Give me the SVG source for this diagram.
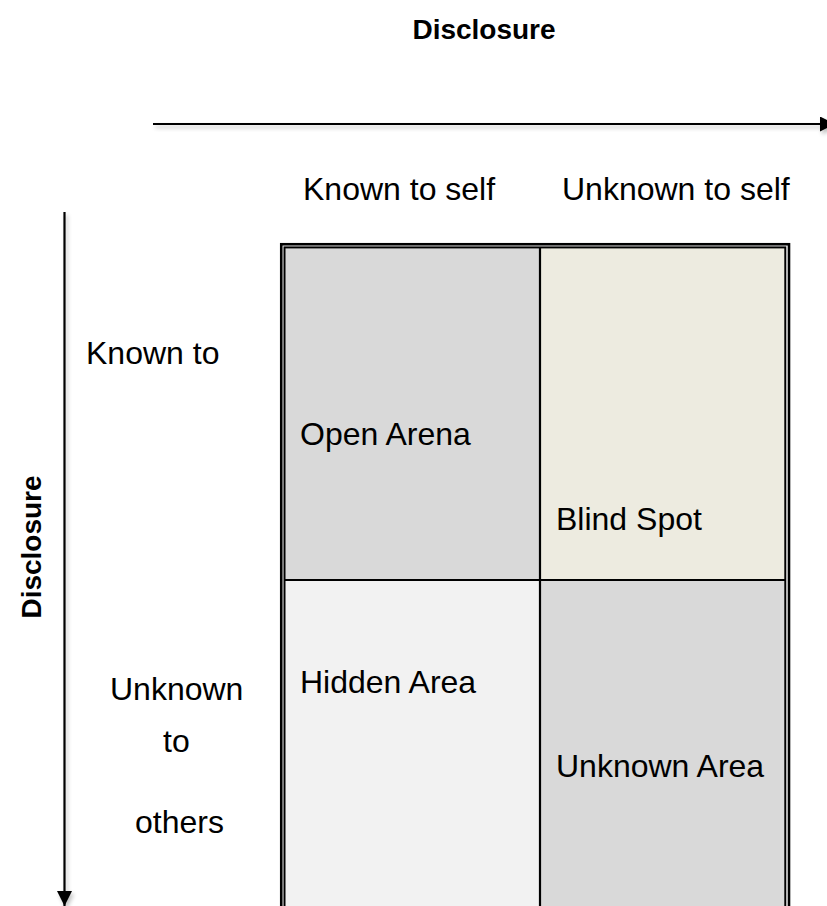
<svg xmlns="http://www.w3.org/2000/svg" width="827" height="906" viewBox="0 0 827 906">
  <style>
    .lbl { font-family: "Liberation Sans", Arial, sans-serif; font-size: 32px; fill: #000; }
    .ttl { font-family: "Liberation Sans", Arial, sans-serif; font-size: 28px; font-weight: bold; fill: #000; }
    .axis { stroke: #000; stroke-width: 2.2; fill: none; }
    .div { stroke: #000; stroke-width: 2.2; fill: none; }
  </style>
  <defs>
    <marker id="head" viewBox="0 0 10 10" refX="10" refY="5" markerUnits="userSpaceOnUse" markerWidth="16" markerHeight="15" orient="auto">
      <path d="M0,0 L10,5 L0,10 z" fill="#000"/>
    </marker>
    <filter id="shadow" x="-5%" y="-50%" width="110%" height="200%">
      <feGaussianBlur in="SourceAlpha" stdDeviation="2"/>
      <feOffset dx="2" dy="3" result="b"/>
      <feComponentTransfer><feFuncA type="linear" slope="0.25"/></feComponentTransfer>
      <feMerge><feMergeNode/><feMergeNode in="SourceGraphic"/></feMerge>
    </filter>
  </defs>

  <rect width="827" height="906" fill="#fff"/>

  <!-- axes -->
  <g id="connectors" filter="url(#shadow)">
    <line class="axis" x1="153" y1="124" x2="835" y2="124" marker-end="url(#head)"/>
    <line class="axis" x1="64.5" y1="212" x2="64.5" y2="906" marker-end="url(#head)"/>
  </g>

  <!-- axis titles -->
  <g id="title-top"><text class="ttl" x="484" y="39" text-anchor="middle">Disclosure</text></g>
  <g id="title-left"><text class="ttl" transform="translate(41,547) rotate(-90)" text-anchor="middle">Disclosure</text></g>

  <!-- column headings -->
  <g id="col-known"><text class="lbl" x="303" y="200">Known to self</text></g>
  <g id="col-unknown"><text class="lbl" x="562" y="200">Unknown to self</text></g>

  <!-- row headings -->
  <g id="row-known"><text class="lbl" x="86" y="364">Known to</text></g>
  <g id="row-unknown">
    <text class="lbl" x="110" y="700">Unknown</text>
    <text class="lbl" x="163" y="752">to</text>
    <text class="lbl" x="135" y="833">others</text>
  </g>

  <!-- grid frame: double outer rule, single inner rules -->
  <g id="grid">
    <rect x="285" y="248" width="255" height="332" fill="#D9D9D9"/>
    <rect x="540" y="248" width="245" height="332" fill="#EDEBE0"/>
    <rect x="285" y="580" width="255" height="330" fill="#F2F2F2"/>
    <rect x="540" y="580" width="245" height="330" fill="#D9D9D9"/>
    <rect x="281.25" y="244.25" width="507.75" height="700" fill="none" stroke="#000" stroke-width="2.6"/>
    <rect x="284.5" y="247.4" width="500.8" height="700" fill="none" stroke="#000" stroke-width="2"/>
    <line class="div" x1="540" y1="248" x2="540" y2="906"/>
    <line class="div" x1="285" y1="580" x2="785" y2="580"/>
  </g>

  <g id="open-arena"><text class="lbl" x="300" y="445">Open Arena</text></g>
  <g id="blind-spot"><text class="lbl" x="556" y="530">Blind Spot</text></g>
  <g id="hidden-area"><text class="lbl" x="300" y="693">Hidden Area</text></g>
  <g id="unknown-area"><text class="lbl" x="556" y="777">Unknown Area</text></g>
</svg>
